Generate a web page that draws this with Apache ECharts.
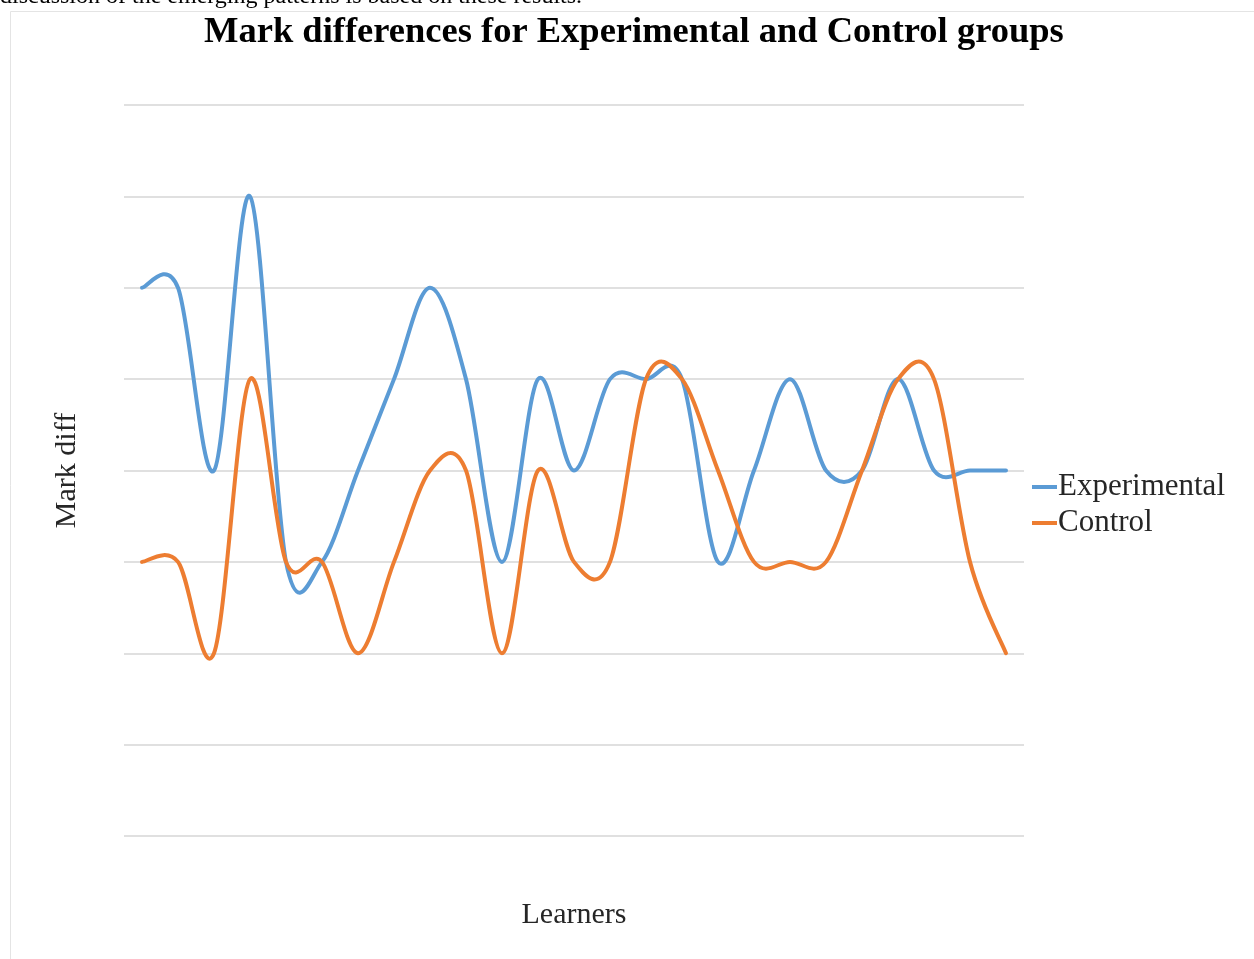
<!DOCTYPE html>
<html>
<head>
<meta charset="utf-8">
<script src="https://cdn.jsdelivr.net/npm/echarts@6/dist/echarts.min.js"></script>
<style>
  html, body { margin: 0; padding: 0; background: #ffffff; }
  #chart { width: 1254px; height: 959px; }
</style>
</head>
<body>
<div id="chart"></div>
<script>
// Learners along the x axis (one slot each)
const learners = Array.from({ length: 25 }, (_, i) => 'L' + (i + 1));
// Mark differences per learner
const experimental = [6, 6, 4, 7, 3, 3, 4, 5, 6, 5, 3, 5, 4, 5, 5, 5, 3, 4, 5, 4, 4, 5, 4, 4, 4];
const control      = [3, 3, 2, 5, 3, 3, 2, 3, 4, 4, 2, 4, 3, 3, 5, 5, 4, 3, 3, 3, 4, 5, 5, 3, 2];
const seriesNames = ['Experimental', 'Control'];
const seriesColors = ['#5B9BD5', '#ED7D31'];
const yMin = 0, yMax = 8, yStep = 1;

const serif = '"Liberation Serif", "DejaVu Serif", serif';
const textColor = '#262626';

// Smooth curve through every point of a series (Catmull-Rom spline as cubic Beziers),
// with the points placed by the chart's own axes via api.coord.
function smoothRenderer(values, color) {
  return function (params, api) {
    if (params.dataIndex !== 0) return null;
    const pts = values.map((v, i) => api.coord([i, v]));
    const n = pts.length;
    let d = 'M' + pts[0][0] + ' ' + pts[0][1];
    for (let i = 0; i < n - 1; i++) {
      const p0 = pts[Math.max(i - 1, 0)];
      const p1 = pts[i];
      const p2 = pts[i + 1];
      const p3 = pts[Math.min(i + 2, n - 1)];
      const c1x = p1[0] + (p2[0] - p0[0]) / 6;
      const c1y = p1[1] + (p2[1] - p0[1]) / 6;
      const c2x = p2[0] - (p3[0] - p1[0]) / 6;
      const c2y = p2[1] - (p3[1] - p1[1]) / 6;
      d += ' C' + c1x + ' ' + c1y + ' ' + c2x + ' ' + c2y + ' ' + p2[0] + ' ' + p2[1];
    }
    return {
      type: 'path',
      shape: { pathData: d },
      style: { fill: 'none', stroke: color, lineWidth: 4, lineCap: 'round', lineJoin: 'round' }
    };
  };
}

function curveSeries(name, values, color) {
  return {
    name: name,
    type: 'custom',
    coordinateSystem: 'cartesian2d',
    data: values.map((v, i) => [i, v]),
    encode: { x: 0, y: 1 },
    itemStyle: { color: color },
    clip: false,
    renderItem: smoothRenderer(values, color)
  };
}

const chart = echarts.init(document.getElementById('chart'), null, { renderer: 'canvas' });

chart.setOption({
  animation: false,
  backgroundColor: '#ffffff',
  graphic: [
    {
      type: 'rect',
      z: -1,
      shape: { x: 10.5, y: 11.5, width: 1400, height: 1100 },
      style: { fill: '#ffffff', stroke: '#e4e4e4', lineWidth: 1 }
    },
    {
      type: 'text',
      x: 0,
      y: 9,
      style: {
        text: 'discussion of the emerging patterns is based on these results.',
        font: '24px ' + serif,
        fill: '#000000',
        verticalAlign: 'bottom'
      }
    }
  ],
  title: {
    text: 'Mark differences for Experimental and Control groups',
    left: 204,
    top: 14,
    padding: 0,
    textStyle: {
      fontFamily: serif,
      fontWeight: 'bold',
      fontSize: 36.5,
      color: '#000000'
    }
  },
  legend: {
    orient: 'vertical',
    left: 1027,
    top: 464,
    icon: 'rect',
    itemWidth: 25,
    itemHeight: 4,
    itemGap: 0,
    data: seriesNames,
    textStyle: {
      fontFamily: serif,
      fontSize: 31,
      color: textColor,
      lineHeight: 36,
      padding: [0, 0, 0, -4]
    }
  },
  grid: {
    left: 124,
    right: 230,
    top: 105,
    bottom: 123,
    containLabel: false
  },
  xAxis: {
    type: 'category',
    data: learners,
    boundaryGap: true,
    name: 'Learners',
    nameLocation: 'middle',
    nameGap: 64,
    nameTextStyle: { fontFamily: serif, fontSize: 30, color: textColor },
    axisLine: { show: false },
    axisTick: { show: false },
    axisLabel: { show: false },
    splitLine: { show: false }
  },
  yAxis: {
    type: 'value',
    min: yMin,
    max: yMax,
    interval: yStep,
    name: 'Mark diff',
    nameLocation: 'middle',
    nameGap: 42,
    nameRotate: 90,
    nameTextStyle: { fontFamily: serif, fontSize: 30, color: textColor },
    axisLine: { show: false },
    axisTick: { show: false },
    axisLabel: { show: false },
    splitLine: { show: true, lineStyle: { color: '#e0e0e0', width: 2 } }
  },
  series: [
    curveSeries(seriesNames[0], experimental, seriesColors[0]),
    curveSeries(seriesNames[1], control, seriesColors[1])
  ]
});
</script>
</body>
</html>
